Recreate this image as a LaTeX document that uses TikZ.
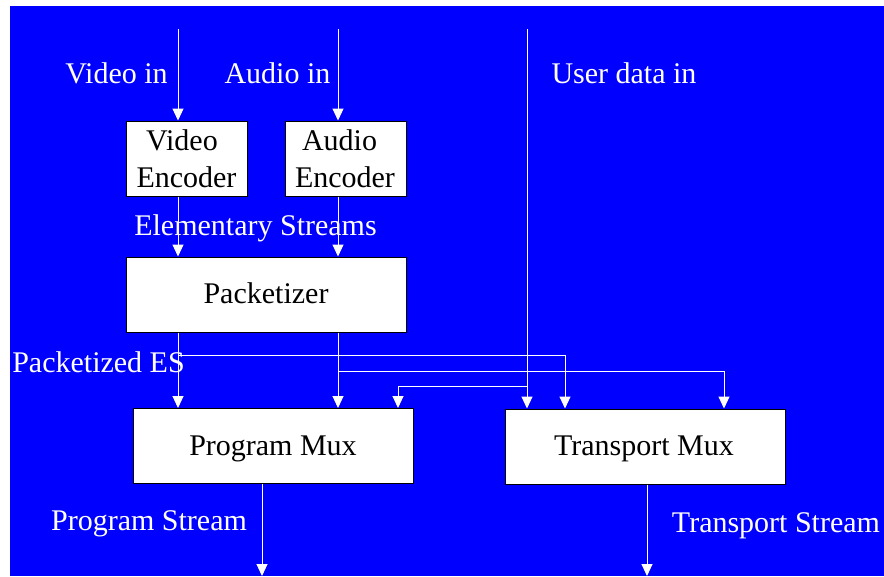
\documentclass[tikz,border=0pt]{standalone}
\usepackage{fontspec}
\setmainfont{Liberation Serif}
\usetikzlibrary{arrows.meta}
\definecolor{bgblue}{RGB}{0,0,255}
\tikzset{
  block/.style={draw=black, line width=1pt, fill=white, text=black,
    minimum width=280pt, minimum height=75pt, inner sep=0pt,
    font=\fontsize{30}{36}\selectfont},
  enc/.style={block, minimum width=121pt, align=center},
  lbl/.style={text=white, anchor=base, inner sep=0pt,
    font=\fontsize{30}{36}\selectfont},
  boxtxt/.style={text=black, anchor=base, inner sep=0pt,
    font=\fontsize{30}{36}\selectfont},
  flow/.style={draw=white, line width=1pt,
    -{Triangle[width=11pt,length=12pt,fill=white]}}
}
\begin{document}
\begin{tikzpicture}[x=1pt,y=-1pt]
  \useasboundingbox (0,0) rectangle (884,576);
  \fill[white] (0,0) rectangle (884,576);
  \fill[bgblue] (10,6) rectangle (884,576);

  % input and output points
  \coordinate (vin) at (178,29);
  \coordinate (ain) at (338,29);
  \coordinate (uin) at (527,29);
  \coordinate (pout) at (262,576);
  \coordinate (tout) at (647,576);

  % branch points on the multiplexer feeds
  \coordinate (vbr) at (178,355);
  \coordinate (vtm) at (565,355);
  \coordinate (abr) at (338,371);
  \coordinate (atm) at (724,371);
  \coordinate (ubr) at (527,386);
  \coordinate (upm) at (398,386);

  % blocks
  \node[enc] (venc) at (186.5,158.5) {};
  \node[enc] (aenc) at (345.5,158.5) {};
  \node[block] (pack) at (266,294.5) {};
  \node[block] (pmux) at (273,446) {};
  \node[block] (tmux) at (645,446.5) {};

  % block texts
  \node[boxtxt] (vt1) at (182,150) {Video};
  \node[boxtxt] (vt2) at (186.5,187) {Encoder};
  \node[boxtxt] (at1) at (339.5,150) {Audio};
  \node[boxtxt] (at2) at (345,187) {Encoder};
  \node[boxtxt] (packt) at (266,303) {Packetizer};
  \node[boxtxt] (pmuxt) at (273,455) {Program Mux};
  \node[boxtxt] (tmuxt) at (644,455) {Transport Mux};

  % labels
  \node[lbl] (lvid) at (116.5,83) {Video in};
  \node[lbl] (laud) at (277.5,83) {Audio in};
  \node[lbl] (lusr) at (624,83) {User data in};
  \node[lbl] (les) at (255.5,235) {Elementary Streams};
  \node[lbl] (lpes) at (98.5,372) {Packetized ES};
  \node[lbl] (lps) at (149,530) {Program Stream};
  \node[lbl] (lts) at (776,532) {Transport Stream};

  % connectors
  \draw[flow] (vin) -- (vin |- venc.north);
  \draw[flow] (ain) -- (ain |- aenc.north);
  \draw[flow] (venc.south -| vin) -- (vin |- pack.north);
  \draw[flow] (aenc.south -| ain) -- (ain |- pack.north);
  \draw[flow] (pack.south -| vin) -- (vin |- pmux.north);
  \draw[flow] (pack.south -| ain) -- (ain |- pmux.north);
  \draw[flow] (uin) -- (uin |- tmux.north);
  \draw[flow] (vbr) -| (vtm |- tmux.north);
  \draw[flow] (abr) -| (atm |- tmux.north);
  \draw[flow] (ubr) -| (upm |- pmux.north);
  \draw[flow] (pmux.south -| pout) -- (pout);
  \draw[flow] (tmux.south -| tout) -- (tout);
\end{tikzpicture}
\end{document}
